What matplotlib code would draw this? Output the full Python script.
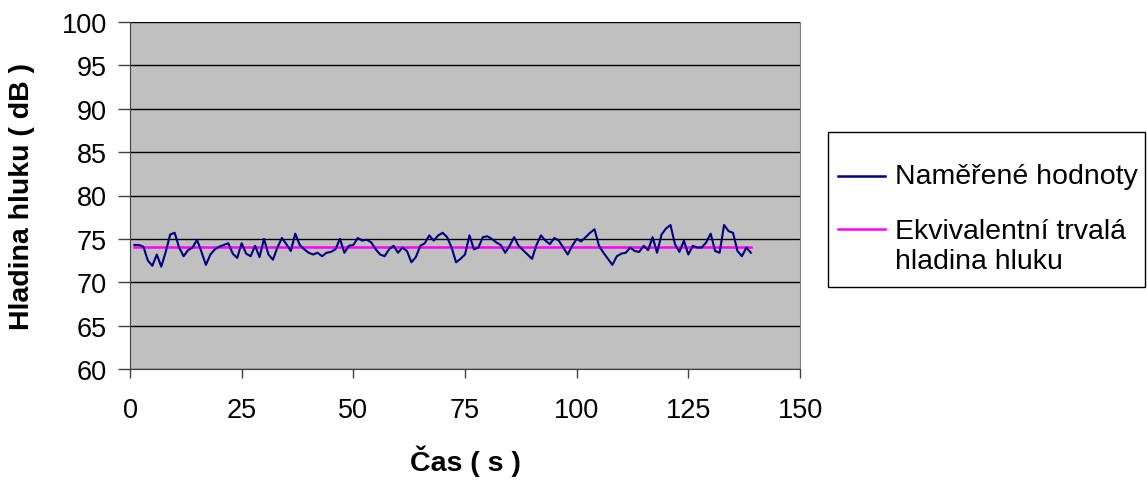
import matplotlib
matplotlib.use("Agg")
import matplotlib.pyplot as plt
from matplotlib.patches import Rectangle
from matplotlib.lines import Line2D

plt.rcParams['font.family'] = ['Liberation Sans', 'DejaVu Sans']

# measured noise level, one value per second
cas = list(range(1, 140))
hodnoty = [
    74.3, 74.3, 74.1, 72.5, 71.9, 73.2, 71.8, 73.5, 75.5, 75.7,
    74.0, 73.0, 73.7, 74.0, 74.9, 73.5, 72.0, 73.2, 73.8, 74.1,
    74.3, 74.5, 73.3, 72.8, 74.5, 73.3, 73.0, 74.2, 72.9, 75.0,
    73.2, 72.6, 74.0, 75.1, 74.4, 73.6, 75.6, 74.3, 73.8, 73.4,
    73.2, 73.4, 73.0, 73.4, 73.5, 73.8, 75.0, 73.4, 74.2, 74.3,
    75.1, 74.8, 74.9, 74.6, 73.8, 73.2, 73.0, 73.8, 74.2, 73.4,
    74.0, 73.6, 72.3, 72.9, 74.2, 74.5, 75.4, 74.8, 75.4, 75.7,
    75.2, 74.0, 72.3, 72.7, 73.2, 75.4, 73.8, 74.0, 75.2, 75.3,
    75.0, 74.6, 74.3, 73.4, 74.2, 75.2, 74.2, 73.7, 73.2, 72.7,
    74.3, 75.4, 74.8, 74.4, 75.1, 74.8, 74.0, 73.2, 74.2, 75.0,
    74.7, 75.2, 75.7, 76.1, 74.2, 73.4, 72.7, 72.0, 73.0, 73.3,
    73.4, 74.0, 73.6, 73.5, 74.2, 73.7, 75.2, 73.4, 75.5, 76.2,
    76.6, 74.4, 73.5, 74.8, 73.2, 74.2, 74.0, 74.0, 74.6, 75.6,
    73.6, 73.4, 76.6, 75.9, 75.7, 73.6, 73.0, 74.0, 73.4,
]
leq = 74.1
popisky = ['Naměřené hodnoty', 'Ekvivalentní trvalá\nhladina hluku']
barvy = ['#000080', '#FF00FF']

W, H = 1147, 485
fig = plt.figure(figsize=(W / 100, H / 100), dpi=100)
ax = fig.add_axes([130/W, 1 - 370/H, 670/W, 347/H])
ax.set_facecolor('#C0C0C0')

ax.plot(cas, hodnoty, color=barvy[0], lw=1.5, zorder=3)
ax.plot(cas, [leq] * len(cas), color=barvy[1], lw=1.8, zorder=2)

ax.set_xlim(0, 150)
ax.set_ylim(60, 100)
ax.set_xticks(range(0, 151, 25))
ax.set_yticks(range(60, 101, 5))
ax.yaxis.grid(True, color='black', lw=1)
ax.set_axisbelow(True)
ax.tick_params(labelsize=19.5, width=1, direction='out', color='#404040')
ax.tick_params(axis='x', length=6.5, pad=14)
ax.tick_params(axis='y', length=8.5, pad=8)
ax.spines['top'].set_visible(False)
ax.spines['right'].set_color('#808080')
ax.spines['left'].set_color('#404040')
ax.spines['bottom'].set_color('#404040')

ax.set_xlabel('Čas ( s )', fontsize=20.5, fontweight='bold', va='center')
ax.xaxis.set_label_coords(0.5, -0.262)
ax.set_ylabel('Hladina hluku ( dB )', fontsize=20.5, fontweight='bold', va='center')
ax.yaxis.set_label_coords(-0.161, 0.5)

# legend box drawn by hand to match the spacing of the original
fig.patches.append(Rectangle((828/W, 1 - 288/H), 317/W, 155/H, transform=fig.transFigure,
                             facecolor='white', edgecolor='black', lw=1))
radky = [177, 230]
for y, barva in zip(radky, barvy):
    fig.lines.append(Line2D([838/W, 885/W], [1 - y/H, 1 - y/H], transform=fig.transFigure,
                            color=barva, lw=1.8))
fig.text(895/W, 1 - 177/H, popisky[0], fontsize=20.5, va='center', ha='left')
fig.text(895/W, 1 - 247.5/H, popisky[1], fontsize=20.5, va='center', ha='left',
         linespacing=1.2)

fig.savefig('out.png', dpi=100, facecolor='white')
